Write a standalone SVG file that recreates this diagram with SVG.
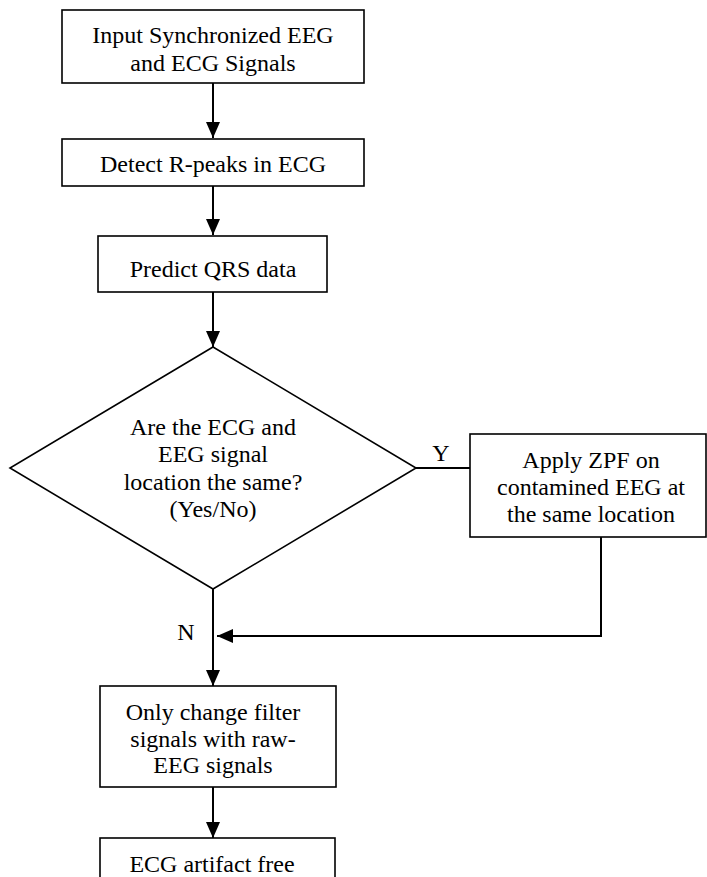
<svg xmlns="http://www.w3.org/2000/svg" width="707" height="877" viewBox="0 0 707 877">
<style>
.box{fill:#fff;stroke:#000;stroke-width:1.6}
.t{font-family:'Liberation Serif','Times New Roman','DejaVu Serif',serif;font-size:24px;fill:#000;text-anchor:middle}
.c{fill:none;stroke:#000;stroke-width:2}
</style>
<defs>
<marker id="ah" markerUnits="userSpaceOnUse" markerWidth="16" markerHeight="16" viewBox="0 0 16 14" refX="16" refY="7" orient="auto">
<path d="M0,0 L16,7 L0,14 Z" fill="#000"/>
</marker>
</defs>
<rect width="707" height="877" fill="#fff"/>
<g id="connectors">
<line class="c" x1="213" y1="83" x2="213" y2="138" marker-end="url(#ah)"/>
<line class="c" x1="213" y1="186" x2="213" y2="235" marker-end="url(#ah)"/>
<line class="c" x1="213" y1="292" x2="213" y2="347" marker-end="url(#ah)"/>
<line class="c" x1="416" y1="468" x2="470" y2="468"/>
<polyline class="c" points="601,537 601,636 217,636" marker-end="url(#ah)"/>
<line class="c" x1="213" y1="589" x2="213" y2="686" marker-end="url(#ah)"/>
<line class="c" x1="213" y1="787" x2="213" y2="838" marker-end="url(#ah)"/>
<text class="t" x="441" y="461">Y</text>
<text class="t" x="186" y="640">N</text>
</g>
<g id="n1">
<rect class="box" x="62" y="10" width="302" height="73"/>
<text class="t" x="213" y="43">Input Synchronized EEG</text>
<text class="t" x="213" y="71">and ECG Signals</text>
</g>
<g id="n2">
<rect class="box" x="62" y="139" width="302" height="47"/>
<text class="t" x="213" y="172">Detect R-peaks in ECG</text>
</g>
<g id="n3">
<rect class="box" x="98" y="236" width="229" height="56"/>
<text class="t" x="213" y="277">Predict QRS data</text>
</g>
<g id="n4">
<polygon class="box" points="213,347 416,468 213,589 10,468"/>
<text class="t" x="213" y="435">Are the ECG and</text>
<text class="t" x="213" y="462">EEG signal</text>
<text class="t" x="213" y="490">location the same?</text>
<text class="t" x="213" y="517">(Yes/No)</text>
</g>
<g id="n5">
<rect class="box" x="470" y="434" width="236" height="103"/>
<text class="t" x="591" y="468">Apply ZPF on</text>
<text class="t" x="591" y="495">contamined EEG at</text>
<text class="t" x="591" y="522">the same location</text>
</g>
<g id="n6">
<rect class="box" x="100" y="686" width="236" height="101"/>
<text class="t" x="213" y="720">Only change filter</text>
<text class="t" x="213" y="747">signals with raw-</text>
<text class="t" x="213" y="773">EEG signals</text>
</g>
<g id="n7">
<rect class="box" x="100" y="838" width="235" height="50"/>
<text class="t" x="212" y="872">ECG artifact free</text>
</g>
</svg>
